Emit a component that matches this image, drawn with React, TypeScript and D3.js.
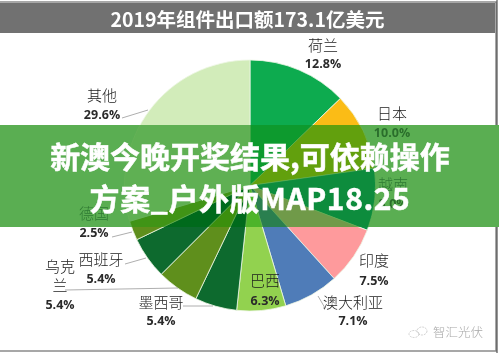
import React from "react";
import * as d3 from "d3";

const categories = ["荷兰", "日本", "越南", "印度", "澳大利亚", "巴西", "墨西哥", "乌克兰", "西班牙", "德国", "其他"];
const shares = [12.8, 10.0, 8.0, 7.5, 7.1, 6.3, 5.4, 5.4, 5.4, 2.5, 29.6];
const sliceColors = ["#0bab50", "#fbbc12", "#0d9048", "#fe9a9c", "#4f7cb8", "#92d24f", "#0a6b2d", "#5f8f1d", "#0a6b2d", "#5f8f1d", "#d2ecba"];
const bannerSliceColors = ["#0f9a2e", "#62a008", "#0a8c3c", "#6f9a48", "#2c7f4f", "#4db42b", "#056a1a", "#3a8f10", "#056a1a", "#3f9418", "#5fb052"];
const title = "2019年组件出口额173.1亿美元";
const bannerLines = ["新澳今晚开奖结果,可依赖操作", "方案_户外版MAP18.25"];
const watermark = "智汇光伏";

const W = 499, H = 353, CX = 250, CY = 185.5, R = 125.5;
const BAN_Y = 125, BAN_H = 102;
const CJK = "'Noto Sans CJK SC', sans-serif";
const NUM = "'Open Sans', 'DejaVu Sans', sans-serif";

// label anchor per category: name lines, centre x, name y, value y
const labelLayout: Record<string, { lines: string[]; x: number; y: number; vy: number }> = {
  荷兰: { lines: ["荷兰"], x: 323, y: 45, vy: 63 },
  日本: { lines: ["日本"], x: 392, y: 113, vy: 132 },
  越南: { lines: ["越南"], x: 393, y: 184, vy: 203 },
  印度: { lines: ["印度"], x: 374, y: 260, vy: 280 },
  澳大利亚: { lines: ["澳大利亚"], x: 353, y: 302, vy: 320 },
  巴西: { lines: ["巴西"], x: 265, y: 280, vy: 300 },
  墨西哥: { lines: ["墨西哥"], x: 161, y: 302, vy: 320 },
  乌克兰: { lines: ["乌克", "兰"], x: 60, y: 266, vy: 304 },
  西班牙: { lines: ["西班牙"], x: 101, y: 259, vy: 278 },
  德国: { lines: ["德国"], x: 94, y: 213, vy: 232 },
  其他: { lines: ["其他"], x: 102, y: 95, vy: 114 },
};
const leaders = [
  "M122,118L148,110",
  "M125,264L146,258",
  "M65,290L178,288",
  "M183,306L213,306",
  "M318,296L325,308L323,308",
  "M112,237L132,232",
  "M366,132L372,137",
];

export default function App() {
  const arcs = d3.pie<number>().sort(null)(shares);
  const arc = d3.arc<d3.PieArcDatum<number>>().innerRadius(0).outerRadius(R);

  const isUnder = (y: number) => y > BAN_Y + 2 && y < BAN_Y + BAN_H + 2;

  return (
    <svg width={W} height={H} viewBox={`0 0 ${W} ${H}`} style={{ position: "fixed", left: 0, top: 0, display: "block", background: "#fff" }}>
      <defs>
        <clipPath id="ban"><rect x={0} y={BAN_Y} width={W} height={BAN_H} /></clipPath>
        <filter id="soft" x="-5%" y="-5%" width="110%" height="110%"><feGaussianBlur stdDeviation="0.45" /></filter>
        <filter id="softer" x="-5%" y="-5%" width="110%" height="110%"><feGaussianBlur stdDeviation="0.3" /></filter>
      </defs>

      <g filter="url(#soft)">
        <rect x={-2} y={2} width={498} height={349} fill="#fff" stroke="#8a8a8a" strokeWidth={1.5} />
        <rect x={0} y={3} width={495} height={30} fill="#717171" />
        <line x1={497} x2={497} y1={0} y2={353} stroke="#333" strokeWidth={1} />
        <text x={247.5} y={27} textAnchor="middle" fontFamily={CJK} fontWeight={700} fontSize={19.5} fill="#fff">{title}</text>

        <g transform={`translate(${CX},${CY})`}>
          {arcs.map((a, i) => (
            <path key={categories[i]} d={arc(a) ?? ""} fill={sliceColors[i]} stroke="#eef6e4" strokeWidth={0.8} />
          ))}
        </g>
        {leaders.map((d) => <path key={d} d={d} fill="none" stroke="#999" strokeWidth={0.8} />)}
      </g>

      <rect x={0} y={BAN_Y} width={W} height={BAN_H} fill="#5aae52" />
      <g clipPath="url(#ban)" filter="url(#soft)">
        <g transform={`translate(${CX},${CY})`}>
          {arcs.map((a, i) => (
            <path key={categories[i]} d={arc(a) ?? ""} fill={bannerSliceColors[i]} stroke="#6cb25a" strokeWidth={0.6} />
          ))}
        </g>
      </g>

      <g filter="url(#softer)">
        {categories.map((c, i) => {
          const l = labelLayout[c];
          return (
            <g key={c} textAnchor="middle">
              {l.lines.map((t, k) => {
                const y = l.y + k * 19;
                return (
                  <text key={t} x={l.x} y={y + 5.5} fontFamily={CJK} fontWeight={300} fontSize={15} fill={isUnder(y) ? "#2f7a33" : "#1c1c1c"}>{t}</text>
                );
              })}
              <text x={l.x} y={l.vy + 4.5} fontFamily={NUM} fontWeight={700} fontSize={12.5} fill={isUnder(l.vy) ? "#2a6e2c" : "#2a2a2a"}>{shares[i].toFixed(1)}%</text>
            </g>
          );
        })}
        <text x={458} y={337} textAnchor="middle" fontFamily={CJK} fontWeight={300} fontSize={12.5} fill="#a8a8a8">{watermark}</text>
        <ellipse cx={414} cy={334} rx={5} ry={3.5} fill="none" stroke="#c4c4c4" strokeWidth={0.8} strokeDasharray="2 1" />
        <ellipse cx={422} cy={331} rx={5} ry={4} fill="none" stroke="#c4c4c4" strokeWidth={0.8} strokeDasharray="2 1" />
      </g>

      <g filter="url(#softer)" textAnchor="middle" fontFamily={CJK} fontWeight={700} fontSize={30} fill="#fff" stroke="#fff" strokeWidth={0.5}>
        {bannerLines.map((t, i) => (
          <text key={t} x={250} y={167.5 + i * 42} letterSpacing={i === 1 ? 0.6 : 0}>{t}</text>
        ))}
      </g>
    </svg>
  );
}
